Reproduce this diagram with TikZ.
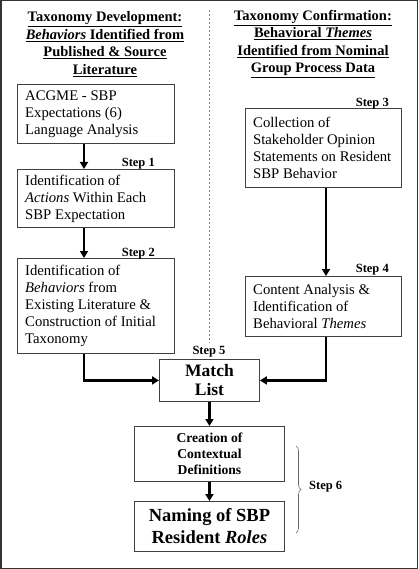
\documentclass[tikz,border=0pt]{standalone}
\usepackage{fontspec}
\setmainfont{Liberation Serif}
\usetikzlibrary{arrows.meta,decorations.pathreplacing}
\tikzset{
  boxr/.style={draw=black!75, line width=0.9pt, inner sep=0pt},
  boxtext/.style={anchor=west, align=left, inner sep=0pt, font=\fontsize{14.7}{17}\selectfont},
  head/.style={align=center, inner sep=0pt, font=\fontsize{14.5}{17.5}\selectfont\bfseries},
  steplbl/.style={inner sep=0pt, font=\fontsize{12.5}{14}\selectfont\bfseries},
  arr/.style={line width=2.6pt, -{Triangle[length=7pt,width=8pt]}},
}
\begin{document}
\begin{tikzpicture}[x=1pt,y=-1pt]
\useasboundingbox (0,0) rectangle (418,569);
\draw[black!80, line width=1.5pt] (0.75,0.75) rectangle (417.25,568.25);
% dashed divider
\coordinate (dtop) at (209,10);
\coordinate (dbot) at (209,343);
\draw[gray, line width=0.9pt, dash pattern=on 2pt off 2pt] (dtop) -- (dbot);
% headings
\node[head] (hl) at (105,44) {\underline{Taxonomy Development:}\\\underline{\textit{Behaviors} Identified from}\\\underline{Published \& Source}\\\underline{Literature}};
\node[head] (hr) at (313,44) {\underline{Taxonomy Confirmation:}\\\underline{Behavioral \textit{Themes}}\\\underline{Identified from Nominal}\\\underline{Group Process Data}};
% left boxes
\node[boxr, minimum width=157pt, minimum height=59pt, anchor=north west] (A) at (17,84) {};
\node[boxtext] (At) at ([xshift=8pt]A.west) {ACGME - SBP\\Expectations (6)\\Language Analysis};
\node[boxr, minimum width=157pt, minimum height=58pt, anchor=north west] (B) at (17,169) {};
\node[boxtext] (Bt) at ([xshift=8pt]B.west) {Identification of\\\textit{Actions} Within Each\\SBP Expectation};
\node[boxr, minimum width=157pt, minimum height=95pt, anchor=north west] (C) at (17,258) {};
\node[boxtext] (Ct) at ([xshift=8pt]C.west) {Identification of\\\textit{Behaviors} from\\Existing Literature \&\\Construction of Initial\\Taxonomy};
% right boxes
\node[boxr, minimum width=156pt, minimum height=79pt, anchor=north west] (D) at (245,108) {};
\node[boxtext] (Dt) at ([xshift=8pt]D.west) {Collection of\\Stakeholder Opinion\\Statements on Resident\\SBP Behavior};
\node[boxr, minimum width=156pt, minimum height=60pt, anchor=north west] (E) at (245,276) {};
\node[boxtext] (Et) at ([xshift=8pt]E.west) {Content Analysis \&\\Identification of\\Behavioral \textit{Themes}};
% center boxes
\node[boxr, minimum width=100pt, minimum height=42pt, anchor=north west, align=center, font=\fontsize{17.5}{19}\selectfont\bfseries] (M) at (159,359) {Match\\List};
\node[boxr, minimum width=150pt, minimum height=55pt, anchor=north west, align=center, font=\fontsize{13.6}{16}\selectfont\bfseries] (F) at (134,426) {Creation of\\Contextual\\Definitions};
\node[boxr, minimum width=150pt, minimum height=50pt, anchor=north west, align=center, font=\fontsize{18.5}{22}\selectfont\bfseries] (G) at (134,501) {Naming of SBP\\Resident \textit{Roles}};
% step labels
\node[steplbl, anchor=east] (s1) at (155,164) {Step 1};
\node[steplbl, anchor=east] (s2) at (155,254) {Step 2};
\node[steplbl, anchor=east] (s3) at (389,104) {Step 3};
\node[steplbl, anchor=east] (s4) at (389,270) {Step 4};
\node[steplbl] (s5) at (209,352) {Step 5};
\node[steplbl, anchor=west] (s6) at (309,487) {Step 6};
% arrows
\draw[arr] (A.south -| 84,0) -- (B.north -| 84,0);
\draw[arr] (B.south -| 84,0) -- (C.north -| 84,0);
\draw[arr] (D.south -| 326,0) -- (E.north -| 326,0);
\draw[arr] (C.south -| 84,0) |- (M.west);
\draw[arr] (E.south -| 326,0) |- (M.east);
\draw[arr] (M.south) -- (F.north);
\draw[arr] (F.south) -- (G.north);
% brace
\coordinate (bt) at (296,446);
\coordinate (bb) at (296,533);
\draw[black!60, line width=0.6pt, decorate, decoration={brace, amplitude=5pt}] (bt) -- (bb);
\end{tikzpicture}
\end{document}
